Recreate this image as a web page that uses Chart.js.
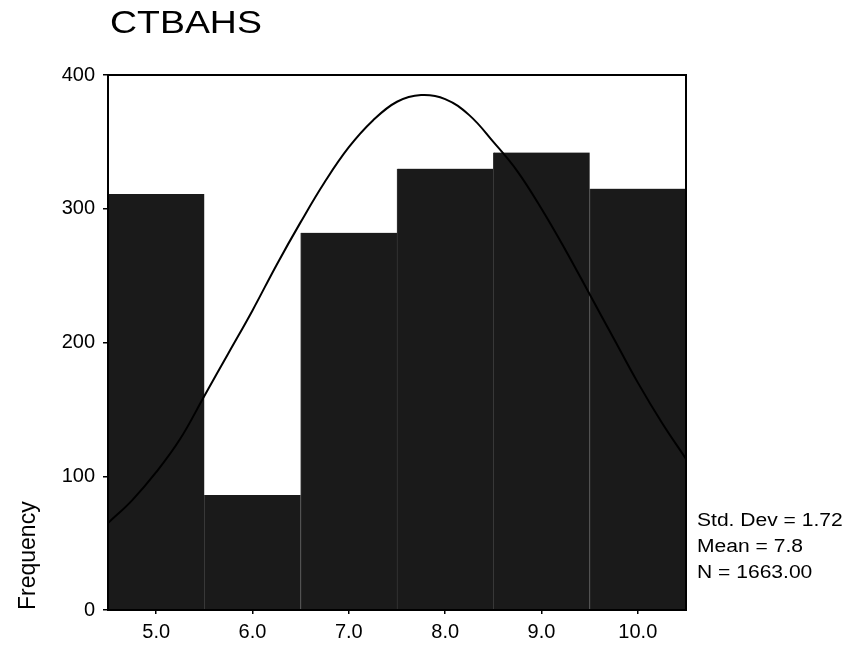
<!DOCTYPE html>
<html>
<head>
<meta charset="utf-8">
<script src="https://cdn.jsdelivr.net/npm/chart.js@4"></script>
<style>
  body { margin: 0; background: #fff; }
  #wrap { position: relative; width: 852px; height: 645px; }
  .txt { position: absolute; font-family: "Liberation Sans", Arial, sans-serif; color: #000; transform-origin: left top; white-space: nowrap; }
  #title { left: 110px; top: 4px; font-size: 32px; transform: scaleX(1.17); }
  .stat { left: 697px; font-size: 18px; transform: scaleX(1.17); }
</style>
</head>
<body>
<div id="wrap">
  <canvas id="myChart"></canvas>
  <div id="title" class="txt">CTBAHS</div>
  <div class="txt stat" style="top:510px">Std. Dev = 1.72</div>
  <div class="txt stat" style="top:536px">Mean = 7.8</div>
  <div class="txt stat" style="top:562px">N = 1663.00</div>
</div>
<script>
// histogram bins (centre of each bin) and counts
const binCenters = [5, 6, 7, 8, 9, 10];
const binLabels = ['5.0', '6.0', '7.0', '8.0', '9.0', '10.0'];
const frequencies = [311, 86, 282, 330, 342, 315];

// normal curve
const curveX = [4.5, 4.75, 5, 5.25, 5.5, 5.75, 6, 6.25, 6.5, 6.75, 7, 7.25, 7.5,
  7.75, 8, 8.25, 8.5, 8.75, 9, 9.25, 9.5, 9.75, 10, 10.25, 10.5];
const curveY = [65, 82, 103, 128, 160, 192, 224, 258, 290, 320, 346, 366, 380,
  385, 382, 370, 350, 328, 300, 269, 236, 203, 170, 140, 113];

const yTicks = [0, 100, 200, 300, 400];

const fontFamily = '"Liberation Sans", Arial, sans-serif';

// box round the plot area
const framePlugin = {
  id: 'frame',
  afterDraw(chart) {
    const a = chart.chartArea;
    const ctx = chart.ctx;
    ctx.save();
    ctx.strokeStyle = '#000';
    ctx.lineWidth = 2;
    ctx.strokeRect(a.left, a.top, a.right - a.left, a.bottom - a.top);
    ctx.restore();
  },
};

const ctx = document.getElementById('myChart');

new Chart(ctx, {
  type: 'bar',
  data: {
    datasets: [
      {
        type: 'line',
        data: curveX.map((x, i) => ({ x: x, y: curveY[i] })),
        borderColor: '#000',
        borderWidth: 2,
        pointRadius: 0,
        tension: 0.4,
        fill: false,
        order: 0,
      },
      {
        type: 'bar',
        data: binCenters.map((x, i) => ({ x: x, y: frequencies[i] })),
        backgroundColor: '#1a1a1a',
        borderColor: '#383838',
        borderWidth: { left: 1, right: 0, top: 0, bottom: 0 },
        borderSkipped: false,
        barPercentage: 1,
        categoryPercentage: 1,
        order: 1,
      },
    ],
  },
  options: {
    responsive: true,
    maintainAspectRatio: false,
    animation: false,
    layout: {
      padding: { top: 75, right: 166, bottom: 0, left: 0 },
    },
    plugins: {
      legend: { display: false },
      tooltip: { enabled: false },
      title: { display: false },
    },
    scales: {
      x: {
        type: 'linear',
        min: 4.5,
        max: 10.5,
        offset: false,
        afterBuildTicks: (scale) => {
          scale.ticks = binCenters.map((v) => ({ value: v }));
        },
        afterFit: (scale) => {
          scale.height = 35;
        },
        ticks: {
          color: '#000',
          padding: 6,
          maxRotation: 0,
          autoSkip: false,
          font: { family: fontFamily, size: 20 },
          callback: (v) => binLabels[binCenters.indexOf(v)],
        },
        grid: {
          offset: false,
          drawOnChartArea: false,
          drawTicks: true,
          tickLength: 4,
          color: '#000',
          lineWidth: 1.5,
        },
        border: { display: true, color: '#000', width: 2 },
      },
      y: {
        min: 0,
        max: 400,
        afterBuildTicks: (scale) => {
          scale.ticks = yTicks.map((v) => ({ value: v }));
        },
        afterFit: (scale) => {
          scale.width = 108;
        },
        ticks: {
          color: '#000',
          padding: 8,
          font: { family: fontFamily, size: 20 },
        },
        grid: {
          drawOnChartArea: false,
          drawTicks: true,
          tickLength: 5,
          color: '#000',
          lineWidth: 1.5,
        },
        border: { display: true, color: '#000', width: 2 },
        title: {
          display: true,
          text: 'Frequency',
          align: 'start',
          color: '#000',
          padding: { top: 15, bottom: 0 },
          font: { family: fontFamily, size: 23 },
        },
      },
    },
  },
  plugins: [framePlugin],
});
</script>
</body>
</html>
